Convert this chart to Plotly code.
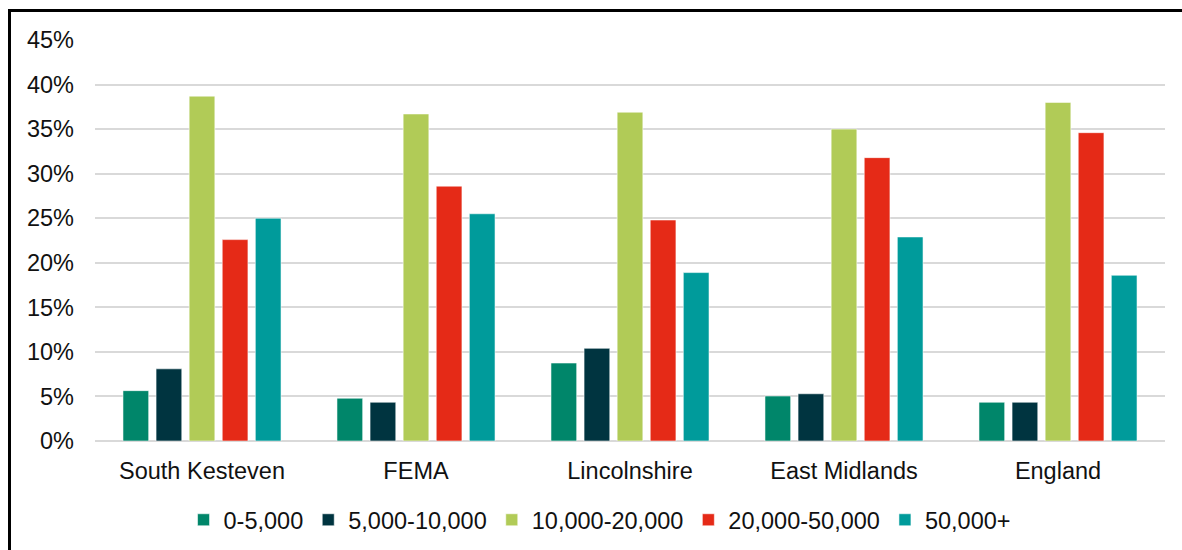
import plotly.graph_objects as go

categories = ["South Kesteven", "FEMA", "Lincolnshire", "East Midlands", "England"]
series_names = ["0-5,000", "5,000-10,000", "10,000-20,000", "20,000-50,000", "50,000+"]
v_0_5k = [0.0565, 0.048, 0.0875, 0.0505, 0.0435]
v_5_10k = [0.081, 0.0435, 0.104, 0.053, 0.0435]
v_10_20k = [0.387, 0.367, 0.369, 0.350, 0.380]
v_20_50k = [0.226, 0.286, 0.248, 0.318, 0.346]
v_50k = [0.250, 0.255, 0.189, 0.229, 0.186]
colors = ["#00866A", "#003440", "#B1CB57", "#E52A17", "#009B9B"]
y_ticks = [0, 0.05, 0.10, 0.15, 0.20, 0.25, 0.30, 0.35, 0.40, 0.45]

series_values = [v_0_5k, v_5_10k, v_10_20k, v_20_50k, v_50k]

fig = go.Figure()
for name, vals, col in zip(series_names, series_values, colors):
    fig.add_trace(go.Bar(
        x=categories, y=vals, name=name,
        marker=dict(color=col, line=dict(color="rgba(255,255,255,0.55)", width=1)),
    ))

font = "Liberation Sans, Arial, sans-serif"
fs = 23.5
fig.update_layout(
    width=1182, height=550,
    margin=dict(l=95, r=17, t=40, b=109, autoexpand=False),
    paper_bgcolor="white", plot_bgcolor="white",
    barmode="group", bargap=0.227, bargroupgap=0.223,
    font=dict(family=font, size=fs, color="#111111"),
    showlegend=True,
    legend=dict(orientation="h", x=0.472, xanchor="center", y=-0.197, yanchor="middle",
                font=dict(size=fs), traceorder="normal"),
    xaxis=dict(showgrid=False, showline=False, ticks="", ticklabelstandoff=13,
               tickfont=dict(size=fs), automargin=False),
    yaxis=dict(range=[0, 0.45], tickvals=y_ticks, tickformat=".0%",
               showgrid=True, gridcolor="#D9D9D9", gridwidth=2,
               zeroline=True, zerolinecolor="#D9D9D9", zerolinewidth=2,
               showline=False, ticks="", ticklabelstandoff=20,
               tickfont=dict(size=fs), automargin=False),
    shapes=[
        dict(type="line", xref="paper", yref="paper",
             x0=(9.5 - 95) / 1070, x1=(9.5 - 95) / 1070,
             y0=(441 - 560) / 401, y1=(441 - 10) / 401,
             line=dict(color="black", width=3)),
        dict(type="line", xref="paper", yref="paper",
             x0=(8 - 95) / 1070, x1=(1190 - 95) / 1070,
             y0=(441 - 10.5) / 401, y1=(441 - 10.5) / 401,
             line=dict(color="black", width=3)),
    ],
)

fig.write_html("out.html")
